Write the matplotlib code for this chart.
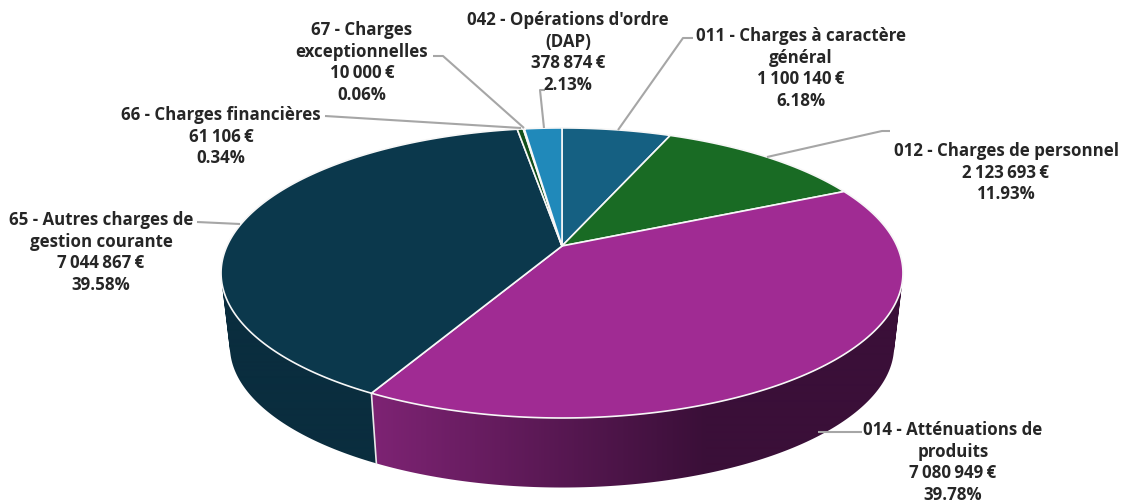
import numpy as np
import matplotlib
matplotlib.use('AGG')
import matplotlib.pyplot as plt
from matplotlib.patches import Polygon, PathPatch
from matplotlib.path import Path

plt.rcParams['font.family'] = ['Open Sans', 'DejaVu Sans']

# Chart data, clockwise from the top of the pie
codes = ['011', '012', '014', '65', '66', '67', '042']
amounts = [1100140, 2123693, 7080949, 7044867, 61106, 10000, 378874]
top_colors = ['#156082', '#196B24', '#A02B93', '#0B384C', '#124F1A', '#4EA72E', '#2089BA']
wall_left = ['#0E4258', '#114A19', '#7D2373', '#0A2D3E', '#0D3A14', '#3A7D22', '#186A90']
wall_right = ['#0A2D3E', '#0C3312', '#3A0F38', '#0B2C3C', '#0D3A14', '#3A7D22', '#186A90']

labels = [
    ["011 - Charges à caractère", "général", "1\u202f100\u202f140\u202f€", "6.18%"],
    ["012 - Charges de personnel", "2\u202f123\u202f693\u202f€", "11.93%"],
    ["014 - Atténuations de", "produits", "7\u202f080\u202f949\u202f€", "39.78%"],
    ["65 - Autres charges de", "gestion courante", "7\u202f044\u202f867\u202f€", "39.58%"],
    ["66 - Charges financières", "61\u202f106\u202f€", "0.34%"],
    ["67 - Charges", "exceptionnelles", "10\u202f000\u202f€", "0.06%"],
    ["042 - Opérations d'ordre", "(DAP)", "378\u202f874\u202f€", "2.13%"],
]
# centre x and first line y of each label, in image pixels
label_pos = [(801, 36), (1006, 151), (953, 430), (101, 220), (221, 115), (362, 30), (568, 20)]
leaders = [
    [(618, 131), (683, 39), (693, 39)],
    [(767, 158), (882, 132), (890, 132)],
    [(818, 433), (862, 433)],
    [(240, 225), (197, 223)],
    [(521, 129), (325, 117)],
    [(524, 129), (443, 57), (433, 57)],
    [(544, 129), (540, 91), (545, 91)],
]

# Pie geometry (perspective of the 3D pie)
hub_x, hub_y = 562, 247
scale_x, scale_y = 335, 140
tilt = 0.186
shrink, drop = 0.974, 74


def rim(theta, k=1.0, dy=0.0):
    # theta is clockwise from the top, in radians
    den = 1 + tilt * np.cos(theta)
    x = hub_x + k * scale_x * np.sin(theta) / den
    y = hub_y - k * scale_y * np.cos(theta) / den + dy
    return x, y


def wall_path(th):
    # all the little quads of one wall, wound the same way so they fill as one shape
    xa, ya = rim(th)
    xb, yb = rim(th, shrink, drop)
    quads = []
    for j in range(len(th) - 1):
        q = np.array([(xa[j], ya[j]), (xa[j + 1], ya[j + 1]), (xb[j + 1], yb[j + 1]), (xb[j], yb[j])])
        area = np.sum(q[:, 0] * np.roll(q[:, 1], -1) - np.roll(q[:, 0], -1) * q[:, 1])
        if area < 0:
            q = q[::-1]
        quads.append(Path(np.vstack([q, q[0]]), closed=True))
    return Path.make_compound_path(*quads)


def to_rgb(c):
    return np.array(matplotlib.colors.to_rgb(c))


fig = plt.figure(figsize=(11.29, 5.02), dpi=100)
ax = fig.add_axes([0, 0, 1, 1])

edges = 2 * np.pi * np.concatenate([[0], np.cumsum(amounts)]) / np.sum(amounts)

# Side walls first, the top faces cover the hidden part
px = np.arange(1129)
for i in range(len(amounts)):
    th = np.linspace(edges[i], edges[i + 1], 200)
    # wall colour runs from left to right of the picture
    t = np.clip((px - 376) / 330, 0, 1)[None, :, None]
    grad = (1 - t) * to_rgb(wall_left[i]) + t * to_rgb(wall_right[i])
    im = ax.imshow(grad, extent=(0, 1129, 502, 0), aspect='auto', interpolation='bilinear', zorder=1)
    im.set_clip_path(PathPatch(wall_path(th), transform=ax.transData))

# White separator on the front wall between 014 and 65
x0, y0 = rim(edges[3])
x1, y1 = rim(edges[3], shrink, drop)
ax.plot([x0, x1], [y0, y1], color='#e8e8e8', lw=1.2, zorder=2)

# Top faces
for i in range(len(amounts)):
    th = np.linspace(edges[i], edges[i + 1], 200)
    xs, ys = rim(th)
    pts = [(hub_x, hub_y)] + list(zip(xs, ys))
    ax.add_patch(Polygon(pts, closed=True, facecolor=top_colors[i], edgecolor='#f7f7f7',
                         linewidth=1.2, joinstyle='round', zorder=3))

# Leader lines
for line in leaders:
    xs, ys = zip(*line)
    ax.plot(xs, ys, color='#a6a6a6', lw=1.5, solid_capstyle='butt', zorder=4)

# Labels
for lines, (cx, top) in zip(labels, label_pos):
    for n, s in enumerate(lines):
        ax.text(cx, top + n * 21.7, s, ha='center', va='center', fontsize=12.2,
                fontweight='bold', color='#262626', zorder=5)

ax.set_xlim(0, 1129)
ax.set_ylim(502, 0)
ax.axis('off')

plt.savefig('out.png', dpi=100)
